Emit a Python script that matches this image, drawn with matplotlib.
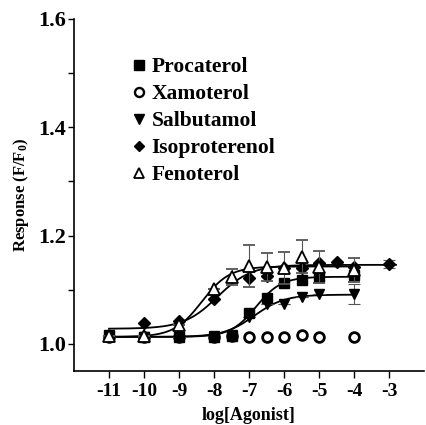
import numpy as np
import matplotlib
matplotlib.use("Agg")
import matplotlib.pyplot as plt
from matplotlib.ticker import MultipleLocator
from matplotlib.lines import Line2D

plt.rcParams['font.family'] = ['Liberation Serif', 'DejaVu Serif']
plt.rcParams['font.weight'] = 'bold'
plt.rcParams['mathtext.fontset'] = 'custom'
plt.rcParams['mathtext.rm'] = 'Liberation Serif:bold'
plt.rcParams['mathtext.bf'] = 'Liberation Serif:bold'
plt.rcParams['mathtext.default'] = 'bf'

# ---- data ----
proc_x = [-11, -10, -9, -8, -7.5, -7, -6.5, -6, -5.5, -5, -4]
proc_y = [1.017, 1.013, 1.013, 1.013, 1.015, 1.057, 1.085, 1.113, 1.118, 1.124, 1.127]

xamo_x = [-11, -10, -9, -8, -7.5, -7, -6.5, -6, -5.5, -5, -4]
xamo_y = [1.012, 1.012, 1.012, 1.013, 1.015, 1.013, 1.013, 1.013, 1.016, 1.013, 1.012]

salb_x = [-11, -10, -9, -8, -7.5, -7, -6.5, -6, -5.5, -5, -4]
salb_y = [1.013, 1.013, 1.013, 1.014, 1.016, 1.050, 1.073, 1.073, 1.087, 1.092, 1.092]
salb_err = [0, 0, 0, 0, 0, 0, 0, 0, 0, 0, 0.018]

iso_x = [-10, -9, -8, -7, -6.5, -6, -5.5, -5, -4.5, -4, -3]
iso_y = [1.039, 1.042, 1.083, 1.122, 1.126, 1.140, 1.140, 1.150, 1.151, 1.142, 1.148]
iso_err = [0, 0, 0, 0, 0, 0, 0, 0, 0, 0, 0.007]

feno_x = [-11, -10, -9, -8, -7.5, -7, -6.5, -6, -5.5, -5, -4]
feno_y = [1.015, 1.015, 1.035, 1.101, 1.124, 1.144, 1.142, 1.140, 1.161, 1.142, 1.137]
feno_err = [0, 0, 0, 0, 0.015, 0.039, 0.026, 0.030, 0.030, 0.030, 0.022]

# fitted sigmoid parameters: bottom, top, logEC50, hill, x-start, x-end
proc_fit = [1.013, 1.124, -6.80, 1.2, -11, -4]
salb_fit = [1.013, 1.091, -6.85, 1.0, -11, -4]
iso_fit = [1.028, 1.146, -7.90, 0.9, -11, -2.8]
feno_fit = [1.013, 1.143, -8.35, 1.1, -11, -4]

xticks = [-11, -10, -9, -8, -7, -6, -5, -4, -3]
yticks = [1.0, 1.2, 1.4, 1.6]
legend_labels = ['Procaterol', 'Xamoterol', 'Salbutamol', 'Isoproterenol', 'Fenoterol']


def sigmoid(x, p):
    b, t, ec, h = p[:4]
    return b + (t - b) / (1 + 10 ** ((ec - x) * h))


fig = plt.figure(figsize=(4.26, 4.25), dpi=100)
ax = fig.add_axes([74 / 426, 54 / 425, 350 / 426, 352 / 425])

for p in (proc_fit, salb_fit, iso_fit, feno_fit):
    xs = np.linspace(p[4], p[5], 300)
    ax.plot(xs, sigmoid(xs, p), color='black', lw=1.3, zorder=2)

ax.plot(xamo_x, xamo_y, 'o', mfc='white', mec='black', mew=2.0, ms=7,
        ls='none', zorder=3)
ax.errorbar(salb_x, salb_y, yerr=salb_err, fmt='v', color='black', ms=7.5,
            ecolor='#555555', elinewidth=0.8, capsize=4, capthick=0.8,
            ls='none', zorder=4)
ax.plot(proc_x, proc_y, 's', color='black', ms=6.5, ls='none', zorder=4)
ax.errorbar(iso_x, iso_y, yerr=iso_err, fmt='D', color='black', ms=6,
            ecolor='#555555', elinewidth=0.8, capsize=4, capthick=0.8,
            ls='none', zorder=5)
ax.errorbar(feno_x, feno_y, yerr=feno_err, fmt='^', mfc='white', mec='black',
            mew=1.3, ms=8, ecolor='#555555', elinewidth=0.8, capsize=4,
            capthick=0.8, ls='none', zorder=6)

ax.set_xlim(-12, -2)
ax.set_ylim(0.95, 1.6)
ax.set_xticks(xticks)
ax.set_xticklabels([str(v) for v in xticks])
ax.set_yticks(yticks)
ax.set_yticklabels(['%.1f' % v for v in yticks])
ax.yaxis.set_minor_locator(MultipleLocator(0.1))
ax.spines['top'].set_visible(False)
ax.spines['right'].set_visible(False)
ax.spines['left'].set_linewidth(1.2)
ax.spines['bottom'].set_linewidth(1.2)
ax.tick_params(axis='x', direction='out', length=5, width=1, labelsize=14, pad=4)
ax.tick_params(axis='y', which='major', direction='out', length=4, width=1,
               labelsize=16, pad=2)
ax.tick_params(axis='y', which='minor', direction='out', length=4, width=1)
for lab in ax.get_xticklabels() + ax.get_yticklabels():
    lab.set_fontweight('bold')

ax.set_xlabel('log[Agonist]', fontsize=13, fontweight='bold', labelpad=5)
ax.set_ylabel(r'Response (F/F$_0$)', fontsize=12, fontweight='bold', labelpad=5)

handles = [
    Line2D([], [], marker='s', color='black', ls='none', ms=6.5),
    Line2D([], [], marker='o', mfc='white', mec='black', mew=1.7, ls='none', ms=6.5),
    Line2D([], [], marker='v', color='black', ls='none', ms=6.5),
    Line2D([], [], marker='D', color='black', ls='none', ms=5),
    Line2D([], [], marker='^', mfc='white', mec='black', mew=1.3, ls='none', ms=7),
]
ax.legend(handles, legend_labels, loc='upper left', bbox_to_anchor=(0.136, 0.922),
          frameon=False, prop={'family': 'Liberation Serif', 'weight': 'bold', 'size': 15.5},
          handlelength=0.6, handletextpad=0.3, labelspacing=0.32, borderpad=0)

fig.savefig('out.png', dpi=100)
